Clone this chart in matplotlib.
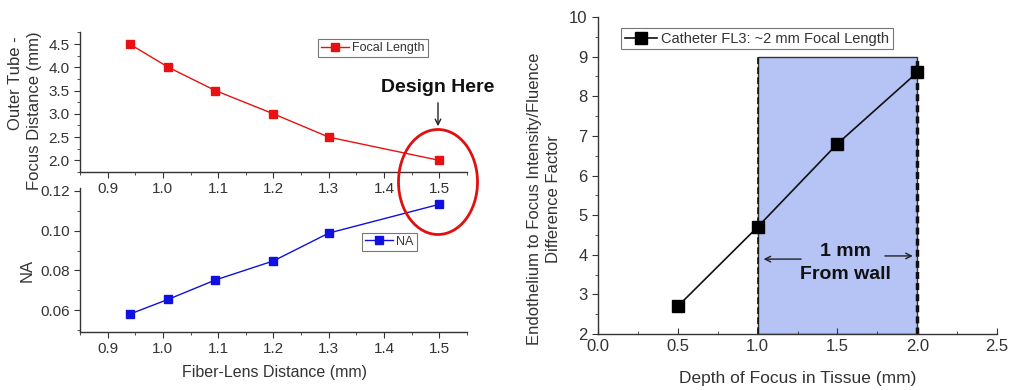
import matplotlib
matplotlib.use("Agg")
import matplotlib.pyplot as plt
from matplotlib.patches import Ellipse, Rectangle
from matplotlib.ticker import MultipleLocator

plt.rcParams['font.family'] = ['Liberation Sans', 'DejaVu Sans']

# fiber-lens sweep
fiber_lens = [0.94, 1.01, 1.095, 1.2, 1.3, 1.5]
focal_length = [4.5, 4.0, 3.5, 3.0, 2.5, 2.0]
na_values = [0.058, 0.0655, 0.0752, 0.0848, 0.0988, 0.1133]

# catheter FL3 depth curve
depth = [0.5, 1.0, 1.5, 2.0]
intensity_factor = [2.7, 4.7, 6.8, 8.6]

W, H = 1011, 390
gray = '#333333'

fig = plt.figure(figsize=(W / 100, H / 100), dpi=100)


def px_box(x0, y0, x1, y1):
    return [x0 / W, 1 - y1 / H, (x1 - x0) / W, (y1 - y0) / H]


def style(ax, xdir='out', size=11):
    ax.patch.set_visible(False)
    for s in ['top', 'right']:
        ax.spines[s].set_visible(False)
    for s in ['left', 'bottom']:
        ax.spines[s].set_color(gray)
        ax.spines[s].set_linewidth(1.0)
    ax.tick_params(axis='both', which='both', colors=gray, labelsize=size, labelcolor=gray)
    ax.tick_params(axis='y', which='major', direction='out', length=4)
    ax.tick_params(axis='y', which='minor', direction='out', length=2)
    ax.tick_params(axis='x', which='major', direction=xdir, length=4)
    ax.tick_params(axis='x', which='minor', direction=xdir, length=2.5)


def legend(ax, anchor, size):
    leg = ax.legend(loc='upper left', bbox_to_anchor=anchor, borderaxespad=0,
                    fancybox=False, fontsize=size, handlelength=2.2,
                    borderpad=0.25, handletextpad=0.3, framealpha=1)
    leg.get_frame().set_edgecolor('#777777')
    leg.get_frame().set_linewidth(0.8)
    for t in leg.get_texts():
        t.set_color(gray)


# top left: focal length
ax1 = fig.add_axes(px_box(80, 32, 467, 172))
ax1.plot(fiber_lens, focal_length, color='#e81010', lw=1.0, marker='s',
         ms=6, mfc='#e81010', mec='#e81010', label='Focal Length', clip_on=False)
ax1.set_xlim(0.85, 1.55)
ax1.set_ylim(1.75, 4.76)
ax1.set_xticks([0.9, 1.0, 1.1, 1.2, 1.3, 1.4, 1.5])
ax1.xaxis.set_minor_locator(MultipleLocator(0.05))
ax1.set_yticks([2.0, 2.5, 3.0, 3.5, 4.0, 4.5])
ax1.yaxis.set_minor_locator(MultipleLocator(0.25))
style(ax1)
legend(ax1, (0.615, 0.95), 9)

# bottom left: NA
ax2 = fig.add_axes(px_box(80, 188, 467, 332))
ax2.plot(fiber_lens, na_values, color='#1010e0', lw=1.0, marker='s',
         ms=6, mfc='#1010e0', mec='#1010e0', label='NA', clip_on=False)
ax2.set_xlim(0.85, 1.55)
ax2.set_ylim(0.049, 0.1215)
ax2.set_xticks([0.9, 1.0, 1.1, 1.2, 1.3, 1.4, 1.5])
ax2.xaxis.set_minor_locator(MultipleLocator(0.05))
ax2.set_yticks([0.06, 0.08, 0.10, 0.12])
ax2.yaxis.set_minor_locator(MultipleLocator(0.01))
style(ax2)
legend(ax2, (0.729, 0.69), 9)

fig.text(16 / W, 1 - 83 / H, 'Outer Tube -', rotation=90,
         ha='center', va='center', fontsize=12, color=gray)
fig.text(35 / W, 1 - 111 / H, 'Focus Distance (mm)', rotation=90,
         ha='center', va='center', fontsize=12, color=gray)
fig.text(27 / W, 1 - 270 / H, 'NA', rotation=90, ha='center', va='center',
         fontsize=12, color=gray)
fig.text(274 / W, 1 - 373 / H, 'Fiber-Lens Distance (mm)', ha='center',
         va='center', fontsize=11.5, color=gray)

# design marker
fig.add_artist(Ellipse((438 / W, 1 - 182 / H), 79 / W, 105 / H,
                       transform=fig.transFigure, fill=False,
                       edgecolor='#e01010', lw=2.0))
fig.text(438 / W, 1 - 87 / H, 'Design Here', ha='center', va='center',
         fontsize=14, fontweight='bold', color='#111111')
fig.add_artist(plt.Annotation('', xy=(438 / W, 1 - 129 / H), xytext=(438 / W, 1 - 100 / H),
                              xycoords='figure fraction', textcoords='figure fraction',
                              arrowprops=dict(arrowstyle='->', color='#222222', lw=1.0)))

# right: intensity factor vs depth
ax3 = fig.add_axes(px_box(598, 17, 997, 334))
ax3.add_patch(Rectangle((1.0, 2.0), 1.0, 7.0, facecolor='#b5c3f5',
                        edgecolor='#333333', lw=1.0, zorder=1))
ax3.axvline(1.0, ymin=0, ymax=7 / 8, color='#111111', lw=1.2, ls=(0, (4, 2)), zorder=2)
ax3.axvline(2.0, ymin=0, ymax=7 / 8, color='#111111', lw=2.5, ls=(0, (2, 1.2)), zorder=2)
ax3.plot(depth, intensity_factor, color='#111111', lw=1.2, marker='s', ms=8,
         mfc='black', mec='black', label='Catheter FL3: ~2 mm Focal Length',
         zorder=3, clip_on=False)
ax3.set_xlim(0, 2.5)
ax3.set_ylim(2, 10)
ax3.xaxis.set_major_locator(MultipleLocator(0.5))
ax3.xaxis.set_minor_locator(MultipleLocator(0.25))
ax3.yaxis.set_major_locator(MultipleLocator(1))
ax3.yaxis.set_minor_locator(MultipleLocator(0.5))
style(ax3, xdir='in', size=12)
legend(ax3, (0.058, 0.965), 10.5)

ax3.annotate('', xy=(1.02, 3.89), xytext=(1.29, 3.89),
             arrowprops=dict(arrowstyle='->', color='#222222', lw=1.0))
ax3.annotate('', xy=(1.99, 3.97), xytext=(1.78, 3.97),
             arrowprops=dict(arrowstyle='->', color='#222222', lw=1.0))
ax3.text(1.55, 4.07, '1 mm', ha='center', va='center', fontsize=14,
         fontweight='bold', color='#111111')
ax3.text(1.55, 3.49, 'From wall', ha='center', va='center', fontsize=14,
         fontweight='bold', color='#111111')

fig.text(544 / W, 1 - 199 / H, 'Endothelium to Focus Intensity/Fluence\nDifference Factor',
         rotation=90, ha='center', va='center', fontsize=12, color=gray,
         linespacing=1.4)
fig.text(798 / W, 1 - 378 / H, 'Depth of Focus in Tissue (mm)', ha='center',
         va='center', fontsize=12.5, color=gray)

fig.savefig('out.png', dpi=100)
